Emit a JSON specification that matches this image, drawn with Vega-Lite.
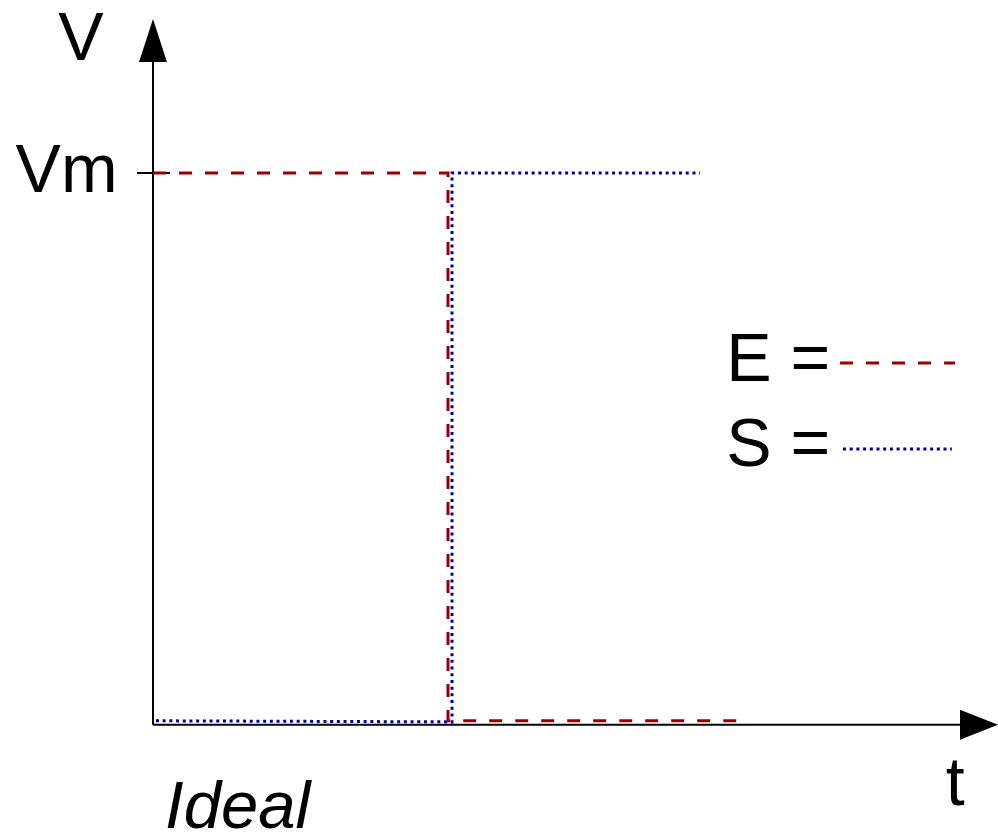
{
  "$schema": "https://vega.github.io/schema/vega-lite/v6.json",
  "width": 998,
  "height": 835,
  "autosize": "none",
  "padding": 0,
  "background": "white",
  "config": {"view": {"stroke": null}},
  "datasets": {
    "signals": [
      {"series": "E", "k": 1, "t": 0, "V": 1},
      {"series": "E", "k": 2, "t": 1.0, "V": 1},
      {"series": "E", "k": 3, "t": 1.0, "V": 0.004},
      {"series": "E", "k": 4, "t": 2.007, "V": 0.004},
      {"series": "S", "k": 1, "t": 0.01, "V": 0.004},
      {"series": "S", "k": 2, "t": 1.0136, "V": 0.002},
      {"series": "S", "k": 3, "t": 1.0136, "V": 1},
      {"series": "S", "k": 4, "t": 1.854, "V": 1}
    ],
    "legendLines": [
      {"series": "E", "k": 1, "t": 2.329, "V": 0.6545},
      {"series": "E", "k": 2, "t": 2.719, "V": 0.6545},
      {"series": "S", "k": 1, "t": 2.339, "V": 0.498},
      {"series": "S", "k": 2, "t": 2.708, "V": 0.498}
    ],
    "axes": [
      {"name": "yaxis", "t": 0, "V": -0.003, "t2": 0, "V2": 1.2018},
      {"name": "xaxis", "t": 0, "V": -0.003, "t2": 2.7356, "V2": -0.003},
      {"name": "vmtick", "t": -0.054, "V": 1, "t2": 0.0576, "V2": 1}
    ],
    "labelsCenter": [
      {"label": "V", "t": -0.244, "V": 1.2055},
      {"label": "t", "t": 2.719, "V": -0.149}
    ],
    "labelsRight": [
      {"label": "Vm", "t": -0.12, "V": 0.9655}
    ],
    "labelsLeft": [
      {"label": "E =", "t": 1.943, "V": 0.6218},
      {"label": "S =", "t": 1.943, "V": 0.467}
    ],
    "labelsItalic": [
      {"label": "Ideal", "t": 0.041, "V": -0.191}
    ]
  },
  "layer": [
    {
      "data": {"name": "axes"},
      "mark": {"type": "rule", "color": "black", "strokeWidth": 2},
      "encoding": {
        "x": {"field": "t", "type": "quantitative", "scale": {"domain": [-0.51864, 2.86441], "nice": false, "zero": false}, "axis": null},
        "y": {"field": "V", "type": "quantitative", "scale": {"domain": [-0.20364, 1.31455], "nice": false, "zero": false}, "axis": null},
        "x2": {"field": "t2"},
        "y2": {"field": "V2"}
      }
    },
    {
      "data": {"values": [{"t": 0, "V": 1.2409}]},
      "mark": {"type": "point", "shape": "M0,-1L0.65,1L-0.65,1Z", "size": 1849, "filled": true, "color": "black", "opacity": 1},
      "encoding": {
        "x": {"field": "t", "type": "quantitative"},
        "y": {"field": "V", "type": "quantitative"}
      }
    },
    {
      "data": {"values": [{"t": 2.8, "V": -0.003}]},
      "mark": {"type": "point", "shape": "M1,0L-1,-0.79L-1,0.79Z", "size": 1444, "filled": true, "color": "black", "opacity": 1},
      "encoding": {
        "x": {"field": "t", "type": "quantitative"},
        "y": {"field": "V", "type": "quantitative"}
      }
    },
    {
      "data": {"name": "signals"},
      "mark": {"type": "line", "strokeWidth": 3, "strokeCap": "butt"},
      "encoding": {
        "x": {"field": "t", "type": "quantitative"},
        "y": {"field": "V", "type": "quantitative"},
        "order": {"field": "k", "type": "quantitative"},
        "color": {"field": "series", "type": "nominal", "scale": {"domain": ["E", "S"], "range": ["#9b0000", "#0000a0"]}, "legend": null},
        "strokeDash": {"field": "series", "type": "nominal", "scale": {"domain": ["E", "S"], "range": [[13, 13], [3, 3.7]]}, "legend": null}
      }
    },
    {
      "data": {"name": "legendLines"},
      "mark": {"type": "line", "strokeWidth": 3, "strokeCap": "butt"},
      "encoding": {
        "x": {"field": "t", "type": "quantitative"},
        "y": {"field": "V", "type": "quantitative"},
        "order": {"field": "k", "type": "quantitative"},
        "color": {"field": "series", "type": "nominal", "scale": {"domain": ["E", "S"], "range": ["#9b0000", "#0000a0"]}, "legend": null},
        "strokeDash": {"field": "series", "type": "nominal", "scale": {"domain": ["E", "S"], "range": [[13, 13], [3, 3.7]]}, "legend": null}
      }
    },
    {
      "data": {"name": "labelsCenter"},
      "mark": {"type": "text", "font": "Liberation Sans", "fontSize": 68, "align": "center", "baseline": "alphabetic", "color": "black"},
      "encoding": {
        "x": {"field": "t", "type": "quantitative"},
        "y": {"field": "V", "type": "quantitative"},
        "text": {"field": "label"}
      }
    },
    {
      "data": {"name": "labelsRight"},
      "mark": {"type": "text", "font": "Liberation Sans", "fontSize": 68, "align": "right", "baseline": "alphabetic", "color": "black"},
      "encoding": {
        "x": {"field": "t", "type": "quantitative"},
        "y": {"field": "V", "type": "quantitative"},
        "text": {"field": "label"}
      }
    },
    {
      "data": {"name": "labelsLeft"},
      "mark": {"type": "text", "font": "Liberation Sans", "fontSize": 68, "align": "left", "baseline": "alphabetic", "color": "black"},
      "encoding": {
        "x": {"field": "t", "type": "quantitative"},
        "y": {"field": "V", "type": "quantitative"},
        "text": {"field": "label"}
      }
    },
    {
      "data": {"name": "labelsItalic"},
      "mark": {"type": "text", "font": "Liberation Sans", "fontSize": 67, "fontStyle": "italic", "align": "left", "baseline": "alphabetic", "color": "black"},
      "encoding": {
        "x": {"field": "t", "type": "quantitative"},
        "y": {"field": "V", "type": "quantitative"},
        "text": {"field": "label"}
      }
    }
  ]
}
